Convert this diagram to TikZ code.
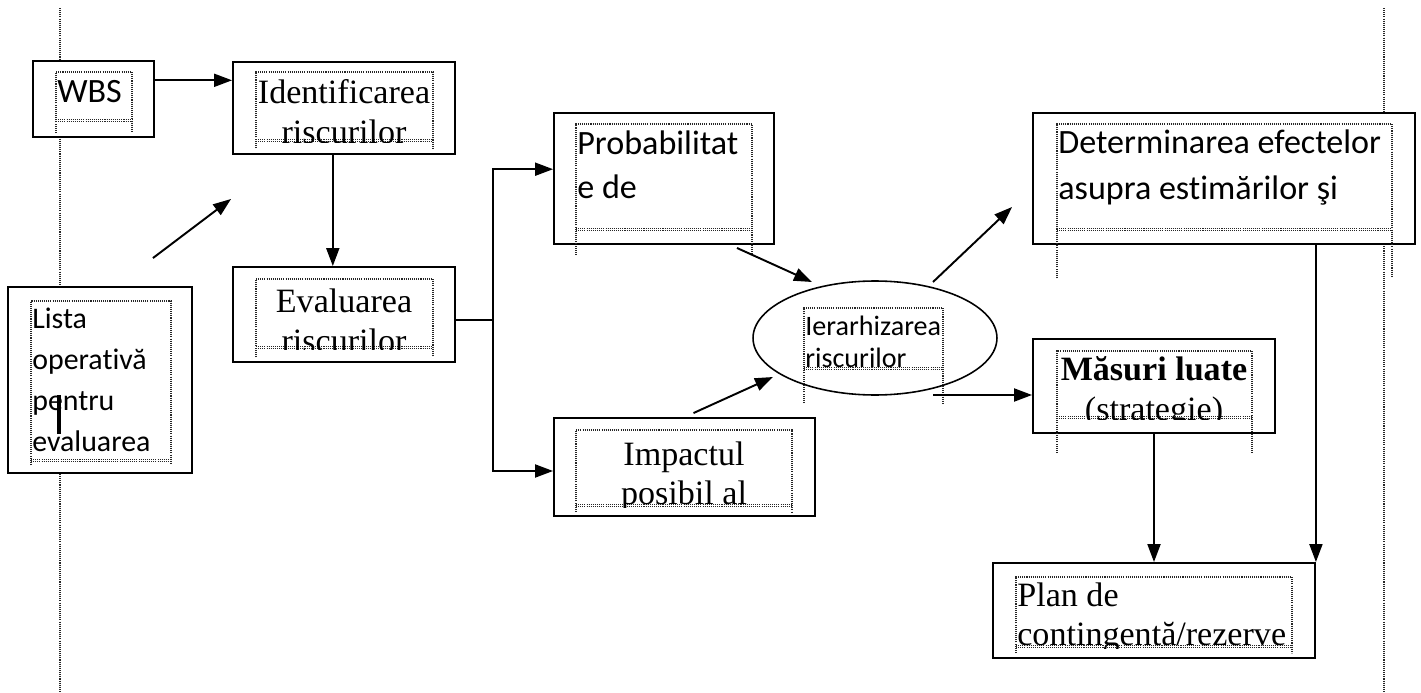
\documentclass[tikz,border=0pt]{standalone}
\usepackage{fontspec}
\setmainfont{Liberation Serif}
\newfontfamily\calibri[Ligatures=NoCommon]{Carlito}
\usetikzlibrary{shapes.geometric,arrows.meta,calc}

% dotted text frame: left, top, right, bottom (wavy), end of side lines
\newcommand{\txtframe}[5]{%
  \draw[frame] (#1,#5) -- (#1,#2) -- (#3,#2) -- (#3,#5);
  \draw[frame] (#1,#4-1.2) -- (#3,#4-1.2);
  \draw[frame] (#1,#4+0.6) -- (#3,#4+0.6);
}

\begin{document}
\begin{tikzpicture}[
    x=0.02cm, y=-0.02cm,
    box/.style={rectangle, draw, fill=white, line width=1.1pt, inner sep=0pt},
    frame/.style={line width=0.6pt, black!85, dash pattern=on 0.6pt off 0.6pt},
    arrow/.style={line width=1.1pt, -{Triangle[length=3.6mm, width=2.6mm]}},
    serif/.style={font=\fontsize{19.4}{22}\selectfont, inner sep=0pt},
    sans/.style={font=\calibri\fontsize{19.4}{23}\selectfont, inner sep=0pt},
    small/.style={font=\calibri\fontsize{16}{19}\selectfont, inner sep=0pt}
]
\useasboundingbox (0,0) rectangle (1421,693);

% page margins
\draw[frame] (60,8) -- (60,693);
\draw[frame] (1384,8) -- (1384,693);

% Boxes
\node[box, minimum width=2.42cm, minimum height=1.52cm] (wbs) at (93.5,99) {};
\node[box, minimum width=4.44cm, minimum height=1.84cm] (ident) at (344,108) {};
\node[box, minimum width=4.44cm, minimum height=1.90cm] (eval) at (344,314.5) {};
\node[box, minimum width=3.68cm, minimum height=3.72cm] (lista) at (100,380) {};
\node[box, minimum width=4.40cm, minimum height=2.62cm] (prob) at (664,178.5) {};
\node[box, minimum width=5.22cm, minimum height=1.96cm] (impact) at (684.5,467) {};
\node[box, ellipse, line width=0.9pt, minimum width=4.88cm, minimum height=2.28cm] (ell) at (875,338) {};
\node[box, minimum width=7.64cm, minimum height=2.62cm] (determ) at (1224,178.5) {};
\node[box, minimum width=4.84cm, minimum height=1.88cm] (masuri) at (1154,386) {};
\node[box, minimum width=6.44cm, minimum height=1.90cm] (plan) at (1154,610.5) {};

% Text frames
\txtframe{56}{72}{132}{121}{133}
\txtframe{256}{72}{433}{141}{148}
\txtframe{256}{279}{433}{348}{357}
\txtframe{31}{301}{171}{461}{465}
\txtframe{576}{124}{752}{230}{255}
\txtframe{576}{430}{792}{506}{512}
\txtframe{804}{308}{943}{369}{403}
\txtframe{1057}{124}{1392}{230}{278}
\txtframe{1057}{351}{1252}{418}{453}
\txtframe{1016}{577}{1292}{647}{653}

% Texts
\node[sans, anchor=base west] (wbs-t) at (57,102) {WBS};
\begin{scope}
\clip (256,72) rectangle (433,142);
\node[serif, anchor=base] (ident-1) at (344,103) {Identificarea};
\node[serif, anchor=base] (ident-2) at (344,143) {riscurilor};
\end{scope}
\begin{scope}
\clip (256,279) rectangle (433,349);
\node[serif, anchor=base] (eval-1) at (344,312) {Evaluarea};
\node[serif, anchor=base] (eval-2) at (344,352) {riscurilor};
\end{scope}
\foreach \t [count=\i from 0] in {Lista, operativă, pentru, evaluarea}
  \node[sans, font=\calibri\fontsize{17}{20}\selectfont, anchor=base west] (lista-\i) at (32,328+41.3*\i) {\t};
\draw[line width=2pt] (59,395) -- (59,434);
\node[sans, anchor=base west] (prob-1) at (577,154) {Probabilitat};
\node[sans, anchor=base west] (prob-2) at (577,198) {e de};
\begin{scope}
\clip (576,430) rectangle (792,507);
\node[serif, anchor=base] (impact-1) at (684,465) {Impactul};
\node[serif, anchor=base] (impact-2) at (684,504) {posibil al};
\end{scope}
\begin{scope}
\clip (804,308) rectangle (943,370);
\node[small, anchor=base west] (ell-1) at (805,335) {Ierarhizarea};
\node[small, anchor=base west] (ell-2) at (805,367) {riscurilor};
\end{scope}
\node[sans, anchor=base west] (determ-1) at (1058,153) {Determinarea efectelor};
\node[sans, anchor=base west] (determ-2) at (1058,199) {asupra estimărilor şi};
\begin{scope}
\clip (1057,351) rectangle (1252,419);
\node[serif, anchor=base] (masuri-1) at (1154,380) {\bfseries Măsuri luate};
\node[serif, anchor=base] (masuri-2) at (1154,420) {(strategie)};
\end{scope}
\begin{scope}
\clip (1016,577) rectangle (1292,648);
\node[serif, anchor=base west] (plan-1) at (1017,606) {Plan de};
\node[serif, anchor=base west] (plan-2) at (1017,645) {contingentă/rezerve};
\end{scope}

% Connectors
\draw[arrow] ($(wbs.north east)!.26!(wbs.south east)$) coordinate (wbsout) -- (wbsout -| ident.west);
\coordinate (identdown) at ($(ident.south west)!.45!(ident.south east)$);
\draw[arrow] (identdown) -- (identdown |- eval.north);
\draw[arrow] ([shift={(-40,-28)}]lista.north east) -- ([shift={(-1,44)}]ident.south west);

\coordinate (fork) at (493,320);
\draw[line width=1.1pt] (eval.east |- fork) -- (fork);
\draw[arrow] (fork) |- ($(prob.north west)!.43!(prob.south west)$);
\draw[arrow] (fork) |- ($(impact.north west)!.54!(impact.south west)$);

\draw[arrow] ([shift={(-38,3)}]prob.south east) -- ([shift={(-63,-56)}]ell.center);
\draw[arrow] ([shift={(9,-4)}]impact.north) -- ([shift={(-102,39)}]ell.center);
\draw[arrow] ([shift={(58,-56)}]ell.center) -- ([shift={(-20,28.5)}]determ.west);
\coordinate (ellout) at ([shift={(58,57)}]ell.center);
\draw[arrow] (ellout) -- (ellout -| masuri.west);

\draw[arrow] (masuri.south) -- (masuri.south |- plan.north);
\draw[arrow] (determ.south -| plan.north east) -- (plan.north east);

\end{tikzpicture}
\end{document}
